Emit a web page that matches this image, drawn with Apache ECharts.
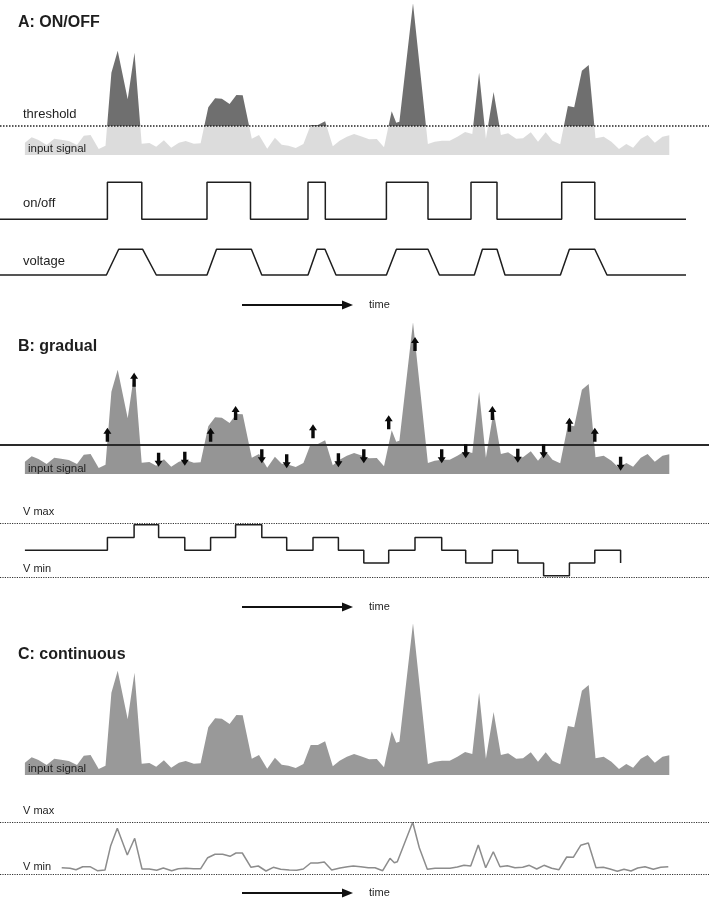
<!DOCTYPE html>
<html><head><meta charset="utf-8">
<script src="https://cdn.jsdelivr.net/npm/echarts@6/dist/echarts.min.js"></script>
<style>html,body{margin:0;padding:0;background:#fff}#c{width:709px;height:900px}</style>
</head><body><div id="c"></div>
<script>
// ---- data ----
const signalTime = [24.9,31.7,38.5,46.6,54.3,61.1,68.8,77,83.8,90.6,98.7,105.5,111.4,117.7,127.7,134.5,141.7,149.4,156.2,163.9,171.2,178.9,185.7,193.8,200.6,208.3,215.1,221.9,229.6,236.4,242.7,251.8,259,267.2,274.9,281.7,288.5,295.7,303.4,310.7,317.9,325.1,332.8,339.6,346.9,354.1,362.3,369.1,376.8,384,391.7,396.2,399.4,413,427.9,434.7,442,449.7,457.4,465.1,472.3,479.1,485.9,493.6,500.9,508.1,516.2,523,530.8,538,545.7,552.5,560.2,567.9,574.2,581.9,588.7,595.5,603.7,611.4,619,626.3,633.1,640.8,647.6,654.8,662.5,669.3];
const signalValue = [12.3,17.7,15,10,16.3,15.3,14,10,19.3,20,6,9.3,82.3,104.3,55.7,102.3,11.3,12,8.3,14.7,7.3,12.3,14,11.3,11.7,47.7,56.7,56.3,51,60,59.7,16.3,20,6.3,17.3,10.3,9.3,7,11,30,30,33.7,8.7,14.3,18.3,21,18.3,15.7,16,7.7,43.7,32.3,33.3,151.7,11,13.3,14.3,14.3,18.3,23,21,82.3,16.3,63,20,21.7,16.3,16.7,22.7,13.3,22.7,14.3,10.7,49,47.7,84.3,90,16.7,18.3,13.3,6,11,7.3,16.3,20,12.3,18.3,19.7];
const threshold = 29.3;

const onOffTime  = [0,107.4,141.8,207,250.5,308,325.3,386.4,428,471,497,561.7,594.8,686];
const onOffState = [0,1,0,1,0,1,0,1,0,1,0,1,0,0];

const voltATime  = [0,106.4,118.7,142.7,156.3,207,216.5,251.4,261.8,308,317,325,336,386.4,396.4,428,439.4,474.3,482.4,497,505,560.4,569.4,594.8,607,686];
const voltALevel = [0,0,1,1,0,0,1,1,0,0,1,1,0,0,1,1,0,0,1,1,0,0,1,1,0,0];

const arrowTime  = [107.4,134.1,158.6,184.8,210.6,235.6,261.8,286.7,313,338.4,363.8,388.7,415,441.7,465.7,492.4,517.8,543.6,569.4,594.8,620.6];
const arrowValue = [39.3,94.3,14.3,15.3,39.3,61,17.7,12.7,42.7,13.7,17.7,51.7,130,17.7,22.7,61,18.3,22.7,49.3,39.3,10.3];
const arrowDir   = ['up','up','down','down','up','up','down','down','up','down','down','up','up','down','down','up','down','down','up','up','down'];

const stepStart = [24.9, 2];
const stepLevel = [3,4,3,2,3,4,3,2,3,2,1,2,3,2,1,2,1,0,1,2,1];

const contTime  = [61.7,70,76,82.7,90,97.3,105,110.7,117.3,127.3,134.7,142,149.3,156.7,163.3,171.7,178.3,186,193.3,200.7,207.7,215,222.7,230,236,242.3,251,258.3,266,273.3,280.7,289.3,296.7,303.3,310.7,317.7,324.3,331.7,340,347.5,353.3,360.7,368.3,375,382.7,390,394.3,397.3,412.7,419.3,427.3,435,442.7,450,457.3,464,470.7,478.3,485.7,493.3,500,507.3,515,522.7,529.3,536.7,544,551.7,559,566.7,573.3,580.7,588.3,596,603.3,610,617.3,624,631,637.7,645,653.3,660.7,668.3];
const contValue = [6.3,5.7,4.3,7.3,7.3,3.3,4,28.3,45.7,19,35.7,5,5,3.7,6,3.3,5.3,5.7,5.3,5.3,16.3,19.7,19.7,17.7,21,21,6.7,8,3,6.7,4.7,4,3.7,5,11,11,12,4,6,7.3,8,7.3,6.3,6.3,3.3,15.7,11.3,12.3,51.7,26.3,4.7,5.7,5.7,5.7,7,8.7,8,29,6.3,22.3,7.3,8.3,6.3,6.7,8.7,5,8.7,5.7,4.3,17,16.7,28.7,31,6.3,6.7,5,2.7,4.7,3,6,7.3,4.7,6.7,7.3];

// ---- chart ----
const zip = (a, b) => a.map((t, i) => [t, b[i]]);
const signalData = zip(signalTime, signalValue);
const FONT = '"Liberation Sans", Arial, sans-serif';
const INK = '#1e1e1e';

const grids = [
  {top: 0, height: 155},       // A signal
  {top: 182.3, height: 37},    // A on/off
  {top: 249.3, height: 25.7},  // A voltage
  {top: 319, height: 155},     // B signal
  {top: 523.5, height: 53.5},  // B voltage
  {top: 620, height: 155},     // C signal
  {top: 822, height: 52}       // C voltage
].map(g => Object.assign({left: 0, width: 709, containLabel: false}, g));

const yRanges = [[0,155],[0,1],[0,1],[0,155],[-0.1,4.1],[0,155],[0,52]];

const xAxes = grids.map((g, i) => ({type: 'value', gridIndex: i, min: 0, max: 709, show: false}));
const yAxes = yRanges.map((r, i) => ({type: 'value', gridIndex: i, min: r[0], max: r[1], show: false}));

function dotted(values, color, width) {
  return {silent: true, symbol: ['none','none'], label: {show: false},
    lineStyle: {type: 'dotted', color: color, width: width},
    data: values.map(v => ({yAxis: v}))};
}

const arrowPath = 'path://M4,0 L8,6 L5.7,6 L5.7,14 L2.3,14 L2.3,6 L0,6 Z';

const series = [
  // A: input signal, light below threshold, dark above
  {type: 'line', xAxisIndex: 0, yAxisIndex: 0, data: signalData, showSymbol: false, silent: true,
   lineStyle: {opacity: 0}, areaStyle: {opacity: 1}, clip: false,
   markLine: dotted([threshold], '#222', 1.5)},
  {type: 'line', xAxisIndex: 1, yAxisIndex: 1, step: 'end', data: zip(onOffTime, onOffState),
   showSymbol: false, silent: true, lineStyle: {color: INK, width: 1.5}, clip: false},
  {type: 'line', xAxisIndex: 2, yAxisIndex: 2, data: zip(voltATime, voltALevel),
   showSymbol: false, silent: true, lineStyle: {color: INK, width: 1.5}, clip: false},
  // B
  {type: 'line', xAxisIndex: 3, yAxisIndex: 3, data: signalData, showSymbol: false, silent: true,
   lineStyle: {width: 0}, areaStyle: {color: '#959595', opacity: 1}, itemStyle: {color: '#959595'}, clip: false,
   markLine: {silent: true, symbol: ['none','none'], label: {show: false},
     lineStyle: {type: 'solid', color: '#2a2a2a', width: 2}, data: [{yAxis: threshold}]}},
  {type: 'scatter', xAxisIndex: 3, yAxisIndex: 3, silent: true, z: 10, symbol: arrowPath, symbolSize: [8, 14],
   itemStyle: {color: '#0a0a0a', opacity: 1}, clip: false,
   data: arrowTime.map((t, i) => ({value: [t, arrowValue[i]], symbolRotate: arrowDir[i] === 'up' ? 0 : 180}))},
  {type: 'line', xAxisIndex: 4, yAxisIndex: 4, step: 'end',
   data: [stepStart].concat(zip(arrowTime, stepLevel)),
   showSymbol: false, silent: true, lineStyle: {color: INK, width: 1.5}, clip: false,
   markLine: dotted([4.1, -0.1], '#333', 1.2)},
  // C
  {type: 'line', xAxisIndex: 5, yAxisIndex: 5, data: signalData, showSymbol: false, silent: true,
   lineStyle: {width: 0}, areaStyle: {color: '#999999', opacity: 1}, itemStyle: {color: '#999999'}, clip: false},
  {type: 'line', xAxisIndex: 6, yAxisIndex: 6, data: zip(contTime, contValue), showSymbol: false, silent: true,
   lineStyle: {color: '#8c8c8c', width: 1.5}, clip: false,
   markLine: dotted([52, 0], '#333', 1.2)}
];

function txt(text, x, y, size, weight) {
  return {type: 'text', x: x, y: y, silent: true, z: 100,
    style: {text: text, fontSize: size, fontFamily: FONT, fontWeight: weight || 'normal',
      fill: INK, verticalAlign: 'middle', align: 'left'}};
}
function timeArrow(y) {
  return [
    {type: 'line', silent: true, z: 100, shape: {x1: 242, y1: y, x2: 344, y2: y},
     style: {stroke: '#111', lineWidth: 2}},
    {type: 'polygon', silent: true, z: 100, shape: {points: [[342, y - 4.5], [353, y], [342, y + 4.5]]},
     style: {fill: '#111'}},
    txt('time', 369, y, 11)
  ];
}

const graphic = [
  txt('A: ON/OFF', 18, 23, 16, 'bold'),
  txt('threshold', 23, 114, 13),
  txt('input signal', 28, 149, 11.5),
  txt('on/off', 23, 203, 13),
  txt('voltage', 23, 261, 13),
  ...timeArrow(305),
  txt('B: gradual', 18, 347, 16, 'bold'),
  txt('input signal', 28, 469, 11.5),
  txt('V max', 23, 512, 11),
  txt('V min', 23, 569, 11),
  ...timeArrow(607),
  txt('C: continuous', 18, 655, 16, 'bold'),
  txt('input signal', 28, 769, 11.5),
  txt('V max', 23, 811, 11),
  txt('V min', 23, 867, 11),
  ...timeArrow(893)
];

const chart = echarts.init(document.getElementById('c'), null, {renderer: 'canvas'});
chart.setOption({
  animation: false,
  backgroundColor: '#fff',
  grid: grids,
  xAxis: xAxes,
  yAxis: yAxes,
  visualMap: [{type: 'piecewise', show: false, seriesIndex: 0, dimension: 1,
    pieces: [{min: -10, max: threshold, color: '#dcdcdc'}, {min: threshold, max: 200, color: '#6f6f6f'}]}],
  series: series,
  graphic: graphic
});
</script></body></html>
